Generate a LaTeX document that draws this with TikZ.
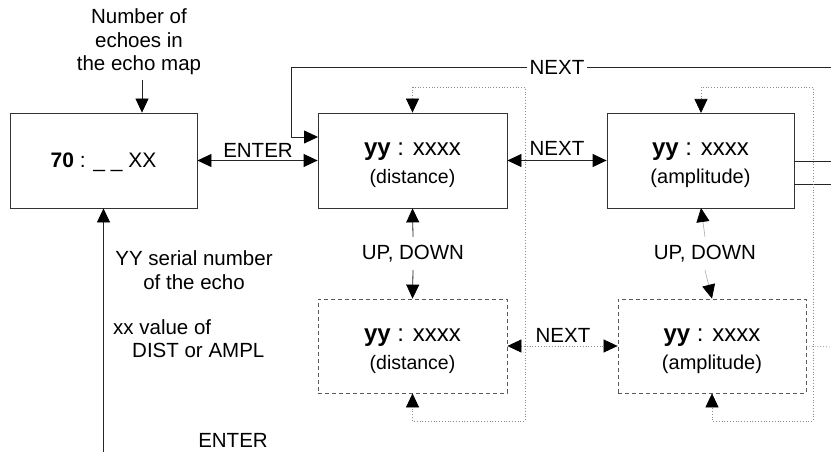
\documentclass[tikz,border=0pt]{standalone}
\usepackage{fontspec}
\setmainfont{Liberation Sans}
\usetikzlibrary{arrows.meta}
\begin{document}
\begin{tikzpicture}[x=1pt,y=-1pt,
  lab/.style={font=\fontsize{20.5}{23.5}\selectfont, inner sep=1pt},
  box/.style={draw=black!80, line width=0.8pt, minimum height=95pt, inner sep=0pt, align=center,
     font=\fontsize{24}{27}\selectfont},
  dbox/.style={box, draw=black!65, dash pattern=on 4pt off 3pt, minimum height=94pt},
  tip/.style={-{Triangle[length=14pt,width=13pt,color=black]}},
  tips/.style={{Triangle[length=14pt,width=13pt,color=black]}-{Triangle[length=14pt,width=13pt,color=black]}},
  ln/.style={draw=black!85, line width=0.8pt},
  dot/.style={draw=black!45, line width=0.7pt, dash pattern=on 0.8pt off 2pt}]
\useasboundingbox (0,0) rectangle (831,452);
% boxes
\node[box, minimum width=187pt, font=\fontsize{21}{27}\selectfont] (b0) at (103.5,160.5) {\rule{0pt}{18pt}\textbf{70} : \_ \_ XX};
\node[box, minimum width=189pt] (b1) at (412.5,160.5) {\rule{0pt}{23pt}\textbf{yy} : xxxx\\[1pt]{\fontsize{19.5}{23}\selectfont(distance)}};
\node[box, minimum width=187pt] (b2) at (700.5,160.5) {\rule{0pt}{23pt}\textbf{yy} : xxxx\\[1pt]{\fontsize{20}{23}\selectfont(amplitude)}};
\node[dbox, minimum width=189pt] (b3) at (412.5,346) {\rule{0pt}{23pt}\textbf{yy} : xxxx\\[1pt]{\fontsize{19.5}{23}\selectfont(distance)}};
\node[dbox, minimum width=188pt] (b4) at (712,346) {\rule{0pt}{23pt}\textbf{yy} : xxxx\\[1pt]{\fontsize{20}{23}\selectfont(amplitude)}};
% labels
\node[lab, align=center] (num) at (139,42) {Number of\\echoes in\\the echo map};
\node[lab] (enter1) at (258,150) {ENTER};
\node[lab, fill=white, inner xsep=2pt] (nexttop) at (557,67) {NEXT};
\node[lab] (next1) at (557,148) {NEXT};
\node[lab] (next2) at (563,335) {NEXT};
\node[lab, minimum height=33pt, inner sep=0pt] (ud1) at (413,253.5) {UP, DOWN};
\node[lab, minimum height=33pt, inner sep=0pt] (ud2) at (705,253.5) {UP, DOWN};
\node[lab, align=center] (serial) at (194,270) {YY serial number\\of the echo};
\node[lab, align=left, anchor=north west] (xxval) at (112,318) {xx value of\\\hspace{19pt}DIST or AMPL};
\node[lab] (enter2) at (233,440) {ENTER};
% free ends
\coordinate (topR) at (831,67);
\coordinate (r1) at (831,161);
\coordinate (r2) at (831,184);
\coordinate (r3) at (831,347);
\coordinate (bot) at (103.5,452);
\coordinate (numarr) at (142,80);
% solid connectors
\draw[ln, tip] (numarr) -- (numarr |- b0.north);
\draw[ln, tip] (bot) -- (b0.south);
\draw[ln, tips] (b0.east) -- (b1.west);
\draw[ln, tips] (b1.east) -- (b2.west);
\draw[ln] (topR) -- (nexttop.east);
\draw[ln, tip] (nexttop.west) -- (291,67) -- (291,137) -- (318,137);
\draw[ln, tip] (ud1.north) -- (b1.south);
\draw[ln, tip] (ud1.south) -- (b3.north);
\draw[draw=black!30, line width=0.7pt, tip] (ud2.north) -- (701,208);
\draw[draw=black!30, line width=0.7pt, tip] (ud2.south) -- (b4.north);
\draw[ln] (b2.east |- r1) -- (r1);
\draw[ln] (b2.east |- r2) -- (r2);
% dotted loops
\draw[dot, tips] (b1.north) -- (412.5,87) -- (525,87) -- (525,421) -- (412.5,421) -- (b3.south);
\draw[dot, tips] (701,113) -- (701,87) -- (813,87) -- (813,421) -- (712,421) -- (b4.south);
\draw[dot, tips] (b3.east) -- (b4.west);
\draw[dot] (b4.east) -- (r3);
\end{tikzpicture}
\end{document}
